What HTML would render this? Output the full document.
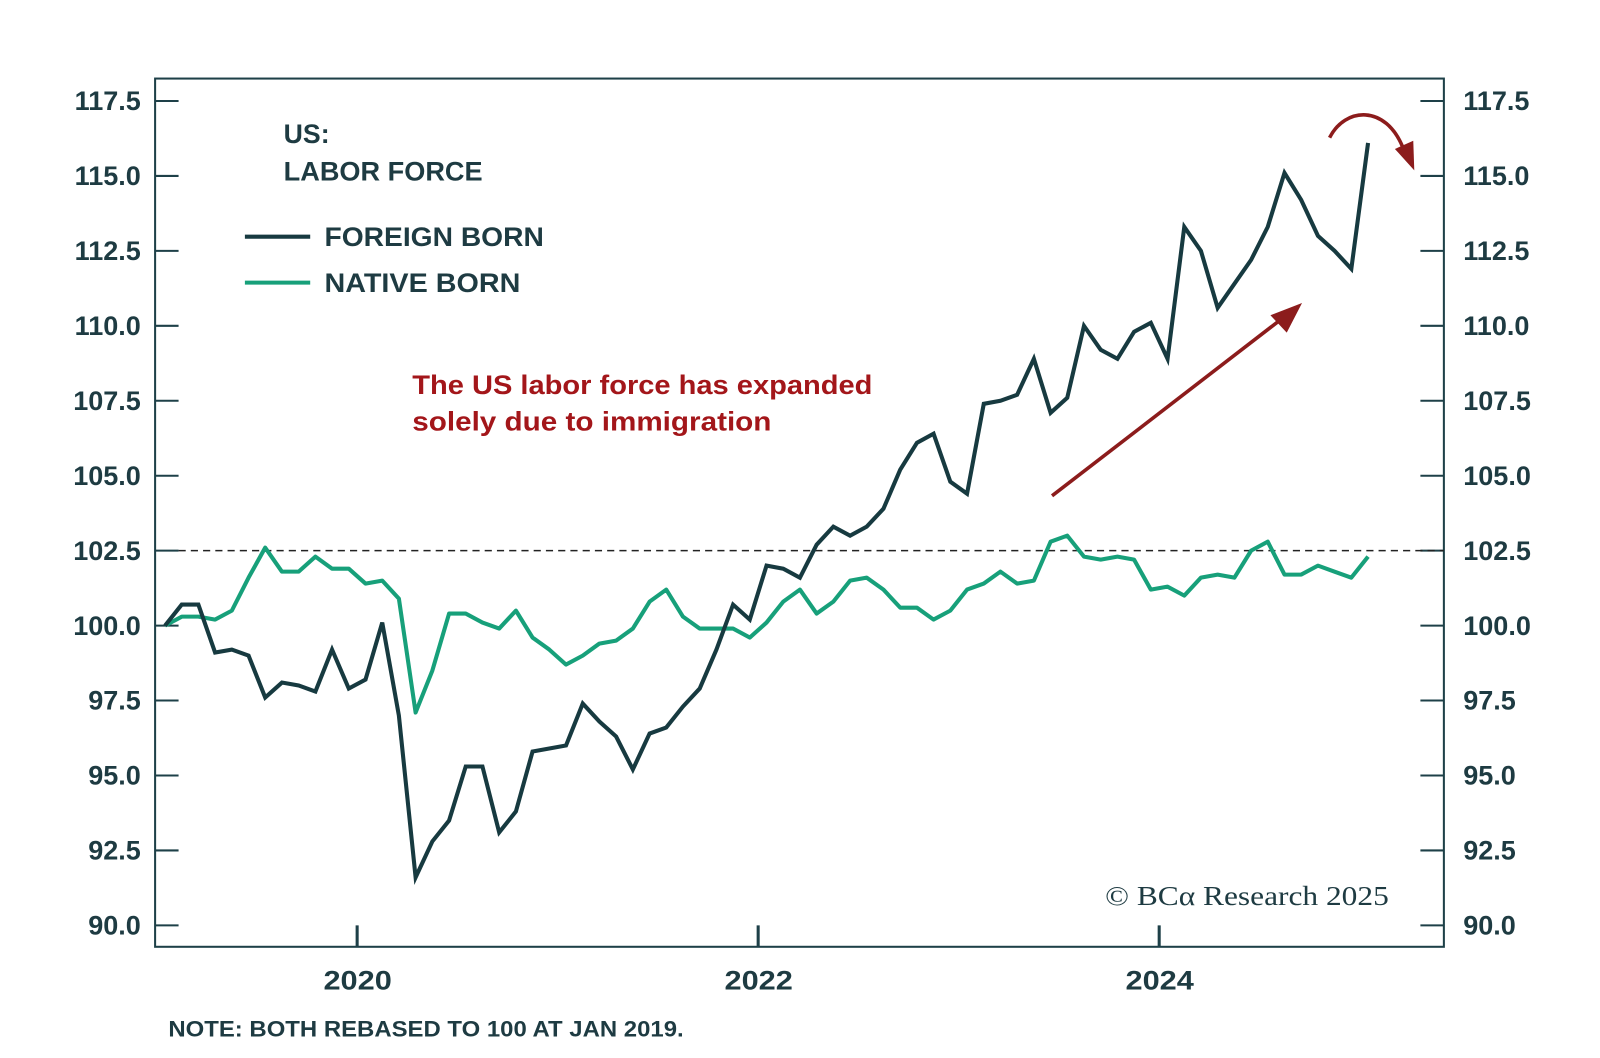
<!DOCTYPE html>
<html><head><meta charset="utf-8"><style>
html,body{margin:0;padding:0;background:#fff;}
svg{display:block;}
text{font-family:"Liberation Sans",sans-serif;}
</style></head><body>
<svg id="chart" width="1600" height="1058" viewBox="0 0 1568 1037" preserveAspectRatio="none">
<rect x="152" y="77" width="1263" height="851" fill="none" stroke="#1e4048" stroke-width="2"/>
<g id="axes"></g>
<g id="series"></g>
<text x="278" y="140" font-size="26" font-weight="bold" fill="#1e3b42" textLength="45" lengthAdjust="spacingAndGlyphs">US:</text>
<text x="278" y="177" font-size="26" font-weight="bold" fill="#1e3b42" textLength="195" lengthAdjust="spacingAndGlyphs">LABOR FORCE</text>
<line x1="240" y1="232" x2="304" y2="232" stroke="#173a40" stroke-width="4"/>
<text x="318" y="241" font-size="26" font-weight="bold" fill="#1e3b42" textLength="215" lengthAdjust="spacingAndGlyphs">FOREIGN BORN</text>
<line x1="240" y1="277" x2="304" y2="277" stroke="#17a07a" stroke-width="4"/>
<text x="318" y="286" font-size="26" font-weight="bold" fill="#1e3b42" textLength="192" lengthAdjust="spacingAndGlyphs">NATIVE BORN</text>
<text x="404" y="386" font-size="26.5" font-weight="bold" fill="#a3161a" textLength="451" lengthAdjust="spacingAndGlyphs">The US labor force has expanded</text>
<text x="404" y="422" font-size="26.5" font-weight="bold" fill="#a3161a" textLength="352" lengthAdjust="spacingAndGlyphs">solely due to immigration</text>
<g>
<line x1="1031" y1="486" x2="1258" y2="311" stroke="#8c1c1c" stroke-width="3.5"/>
<polygon points="1276,297 1245,309 1261,326" fill="#8c1c1c"/>
</g>
<g>
<path d="M1303,135 C1318,105 1358,102 1375,145" fill="none" stroke="#8c1c1c" stroke-width="3.5"/>
<polygon points="1386,167 1367,146 1385,138" fill="#8c1c1c"/>
</g>
<text x="1083" y="887" font-size="27" fill="#1e3b42" textLength="278" lengthAdjust="spacingAndGlyphs" style="font-family:'Liberation Serif',serif">© BCα Research 2025</text>
<text x="165" y="1016" font-size="22" font-weight="bold" fill="#1e3b42" textLength="505" lengthAdjust="spacingAndGlyphs">NOTE: BOTH REBASED TO 100 AT JAN 2019.</text>
</svg>
<script>
const yTicks=[90.0,92.5,95.0,97.5,100.0,102.5,105.0,107.5,110.0,112.5,115.0,117.5];
const xTickYears=[2020,2022,2024];
const startYear=2019;
const foreignBorn=[100.0,100.7,100.7,99.1,99.2,99.0,97.6,98.1,98.0,97.8,99.2,97.9,98.2,100.1,97.0,91.6,92.8,93.5,95.3,95.3,93.1,93.8,95.8,95.9,96.0,97.4,96.8,96.3,95.2,96.4,96.6,97.3,97.9,99.2,100.7,100.2,102.0,101.9,101.6,102.7,103.3,103.0,103.3,103.9,105.2,106.1,106.4,104.8,104.4,107.4,107.5,107.7,108.9,107.1,107.6,110.0,109.2,108.9,109.8,110.1,108.9,113.3,112.5,110.6,111.4,112.2,113.3,115.1,114.2,113.0,112.5,111.9,116.1];
const nativeBorn=[100.0,100.3,100.3,100.2,100.5,101.6,102.6,101.8,101.8,102.3,101.9,101.9,101.4,101.5,100.9,97.1,98.5,100.4,100.4,100.1,99.9,100.5,99.6,99.2,98.7,99.0,99.4,99.5,99.9,100.8,101.2,100.3,99.9,99.9,99.9,99.6,100.1,100.8,101.2,100.4,100.8,101.5,101.6,101.2,100.6,100.6,100.2,100.5,101.2,101.4,101.8,101.4,101.5,102.8,103.0,102.3,102.2,102.3,102.2,101.2,101.3,101.0,101.6,101.7,101.6,102.5,102.8,101.7,101.7,102.0,101.8,101.6,102.3];
const refLevel=102.5;

const NS='http://www.w3.org/2000/svg';
function y(v){return 99+(117.5-v)*(808/27.5);}
function xYear(yr){return 153.5+(yr-startYear)*196.5;}
function xMonth(i){return 153.5+(i+0.5)*196.5/12;}
function mk(tag,attrs,parent){const e=document.createElementNS(NS,tag);for(const k in attrs)e.setAttribute(k,attrs[k]);parent.appendChild(e);return e;}
const axes=document.getElementById('axes');
const series=document.getElementById('series');
yTicks.forEach(v=>{
  const yy=y(v);
  let t=mk('line',{x1:152,x2:175,y1:yy,y2:yy,stroke:'#1e4048','stroke-width':2},axes);
  
  
  t=mk('line',{x1:1392,x2:1415,y1:yy,y2:yy,stroke:'#1e4048','stroke-width':2},axes);
  
  
  let l=mk('text',{x:138,y:yy+9,'text-anchor':'end','font-size':26.5,'font-weight':'bold',fill:'#1e3b42'},axes);
  l.textContent=v.toFixed(1);
  
  
  l=mk('text',{x:1434,y:yy+9,'font-size':26.5,'font-weight':'bold',fill:'#1e3b42'},axes);
  l.textContent=v.toFixed(1);
  
  
});
xTickYears.forEach(yr=>{
  const xx=xYear(yr);
  const t=mk('line',{x1:xx,x2:xx,y1:907,y2:928,stroke:'#1e4048','stroke-width':3},axes);
  
  
  const l=mk('text',{x:xx-33,y:970,'font-size':26,'font-weight':'bold',fill:'#1e3b42',textLength:67,lengthAdjust:'spacingAndGlyphs'},axes);
  l.textContent=yr;
  
  
});
const ref=mk('line',{x1:175,x2:1415,y1:y(refLevel),y2:y(refLevel),stroke:'#222','stroke-width':1.5,'stroke-dasharray':'7,5'},series);


function pts(arr){return arr.map((v,i)=>xMonth(i).toFixed(1)+','+y(v).toFixed(1)).join(' ');}
const nl=mk('polyline',{points:pts(nativeBorn),fill:'none',stroke:'#17a07a','stroke-width':4,'stroke-linejoin':'round'},series);


const fl=mk('polyline',{points:pts(foreignBorn),fill:'none',stroke:'#173a40','stroke-width':4,'stroke-linejoin':'miter'},series);


</script>
</body></html>
